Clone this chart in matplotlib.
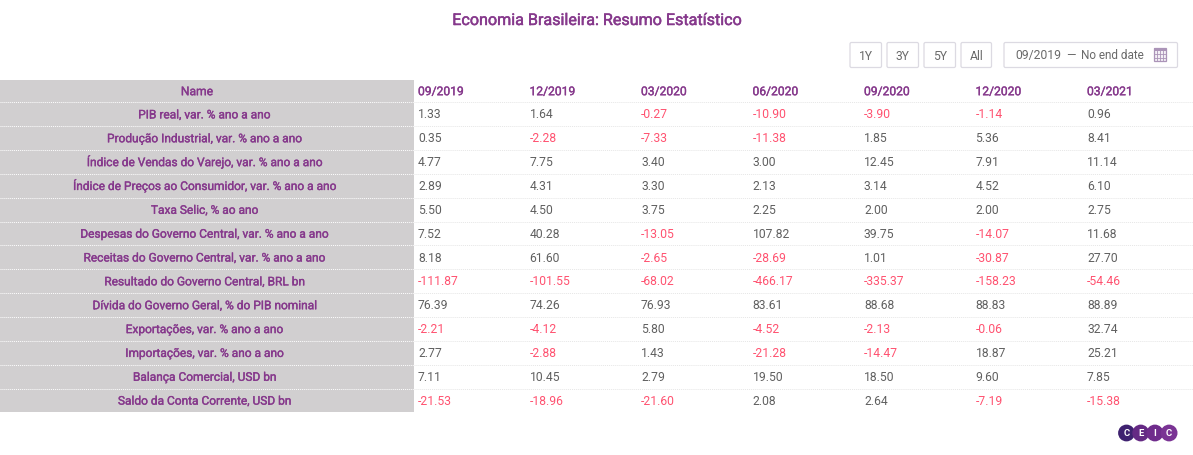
import matplotlib
matplotlib.use("Agg")
import matplotlib.pyplot as plt
import matplotlib.patheffects as pe
from matplotlib.patches import Rectangle, FancyBboxPatch, Circle

plt.rcParams['font.family'] = ['Roboto', 'DejaVu Sans']

title = "Economia Brasileira: Resumo Estatístico"
dates = ["09/2019", "12/2019", "03/2020", "06/2020", "09/2020", "12/2020", "03/2021"]
names = ["PIB real, var. % ano a ano", "Produção Industrial, var. % ano a ano",
         "Índice de Vendas do Varejo, var. % ano a ano",
         "Índice de Preços ao Consumidor, var. % ano a ano", "Taxa Selic, % ao ano",
         "Despesas do Governo Central, var. % ano a ano",
         "Receitas do Governo Central, var. % ano a ano",
         "Resultado do Governo Central, BRL bn", "Dívida do Governo Geral, % do PIB nominal",
         "Exportações, var. % ano a ano", "Importações, var. % ano a ano",
         "Balança Comercial, USD bn", "Saldo da Conta Corrente, USD bn"]
values = [
    ["1.33", "1.64", "-0.27", "-10.90", "-3.90", "-1.14", "0.96"],
    ["0.35", "-2.28", "-7.33", "-11.38", "1.85", "5.36", "8.41"],
    ["4.77", "7.75", "3.40", "3.00", "12.45", "7.91", "11.14"],
    ["2.89", "4.31", "3.30", "2.13", "3.14", "4.52", "6.10"],
    ["5.50", "4.50", "3.75", "2.25", "2.00", "2.00", "2.75"],
    ["7.52", "40.28", "-13.05", "107.82", "39.75", "-14.07", "11.68"],
    ["8.18", "61.60", "-2.65", "-28.69", "1.01", "-30.87", "27.70"],
    ["-111.87", "-101.55", "-68.02", "-466.17", "-335.37", "-158.23", "-54.46"],
    ["76.39", "74.26", "76.93", "83.61", "88.68", "88.83", "88.89"],
    ["-2.21", "-4.12", "5.80", "-4.52", "-2.13", "-0.06", "32.74"],
    ["2.77", "-2.88", "1.43", "-21.28", "-14.47", "18.87", "25.21"],
    ["7.11", "10.45", "2.79", "19.50", "18.50", "9.60", "7.85"],
    ["-21.53", "-18.96", "-21.60", "2.08", "2.64", "-7.19", "-15.38"],
]
range_buttons = ["1Y", "3Y", "5Y", "All"]
date_from, date_sep, date_to = "09/2019", "—", "No end date"
logo_letters = ["C", "E", "I", "C"]

W, H = 1193, 455
PURPLE, RED, GREY, BAND = "#86398c", "#ff5270", "#606060", "#d1cfd0"
FS = 8.7
BASE = 4.2  # baseline offset below row centre, px


def medium(width=0.25, color=PURPLE):
    return [pe.withStroke(linewidth=width, foreground=color)]


fig = plt.figure(figsize=(W / 100, H / 100), dpi=100)
ax = fig.add_axes([0, 0, 1, 1])
ax.set_xlim(0, W)
ax.set_ylim(H, 0)
ax.axis("off")

ax.text(597, 25, title, color=PURPLE, fontsize=11.6, ha="center", va="baseline",
        path_effects=medium(0.35))

# Table geometry
top, head_h, row_h, band_w = 80, 22.3, 23.85, 414
col_x0, col_dx = 418, 111.5
name_x, head_x = 204.5, 197
ax.add_patch(Rectangle((0, top), band_w, head_h + row_h * len(names), fc=BAND, ec="none", zorder=1))
ax.text(head_x, top + 11 + BASE, "Name", color=PURPLE, fontsize=FS, ha="center", va="baseline", zorder=3,
        path_effects=medium())
for j, d in enumerate(dates):
    ax.text(col_x0 + j * col_dx, top + 11 + BASE, d, color=PURPLE, fontsize=FS, va="baseline", zorder=3,
            path_effects=medium())

for i, (name, row) in enumerate(zip(names, values)):
    y = top + head_h + i * row_h
    ax.plot([0, band_w], [y, y], color="white", lw=0.7, ls=(0, (1, 1)), zorder=2)
    ax.plot([band_w, W], [y, y], color="#e6e6e6", lw=0.7, ls=(0, (1, 1)), zorder=2)
    yc = y + row_h / 2 + BASE
    ax.text(name_x, yc, name, color=PURPLE, fontsize=8.58, ha="center", va="baseline", zorder=3,
            path_effects=medium())
    for j, v in enumerate(row):
        ax.text(col_x0 + j * col_dx, yc, v, color=RED if v.startswith("-") else GREY,
                fontsize=FS, va="baseline", zorder=3)

# Range selector
btn_y, btn_h = 42.5, 25
for label, x, w in zip(range_buttons, [850, 887, 924, 961], [31.5, 31.5, 31.5, 30.5]):
    ax.add_patch(FancyBboxPatch((x, btn_y), w, btn_h, boxstyle="round,pad=0,rounding_size=1.5",
                                fc="white", ec="#dcdae2", lw=0.9))
    ax.text(x + w / 2, btn_y + btn_h / 2 + BASE + 0.5, label, color="#6a6a6a", fontsize=FS, ha="center", va="baseline")
ax.add_patch(FancyBboxPatch((1004, btn_y), 173.5, btn_h, boxstyle="round,pad=0,rounding_size=1.5",
                            fc="white", ec="#dcdae2", lw=0.9))
tb = btn_y + btn_h / 2 + BASE
ax.text(1015, tb, date_from, color="#6a6a6a", fontsize=FS, va="baseline")
ax.text(1070.5, tb, date_sep, color="#6a6a6a", fontsize=FS, ha="center", va="baseline")
ax.text(1081, tb, date_to, color="#6a6a6a", fontsize=8.45, va="baseline")

# Calendar icon
cx, cy, cw, ch = 1153.5, 47.5, 12, 13.5
ax.add_patch(Rectangle((cx, cy), cw, ch, fc="#f3eff5", ec="#ab94b8", lw=0.9))
ax.add_patch(Rectangle((cx, cy), cw, 3.5, fc="#ab94b8", ec="none"))
for k in (1, 2, 3):
    ax.plot([cx + k * cw / 4] * 2, [cy, cy + ch], color="#ab94b8", lw=0.6)
for k in (1, 2):
    ax.plot([cx, cx + cw], [cy + 3.5 + k * 3.3] * 2, color="#ab94b8", lw=0.6)

# Logo
for k, (letter, col) in enumerate(zip(logo_letters, ["#3f2270", "#652a84", "#6f2c8c", "#7a3394"])):
    x = 1126.5 + k * 14.2
    ax.add_patch(Circle((x, 433), 8.4, fc=col, ec="none", zorder=4))
    ax.text(x, 436, letter, color="white", fontsize=6.8, fontweight="bold", ha="center", va="baseline", zorder=5)

fig.savefig("out.png", dpi=100)
